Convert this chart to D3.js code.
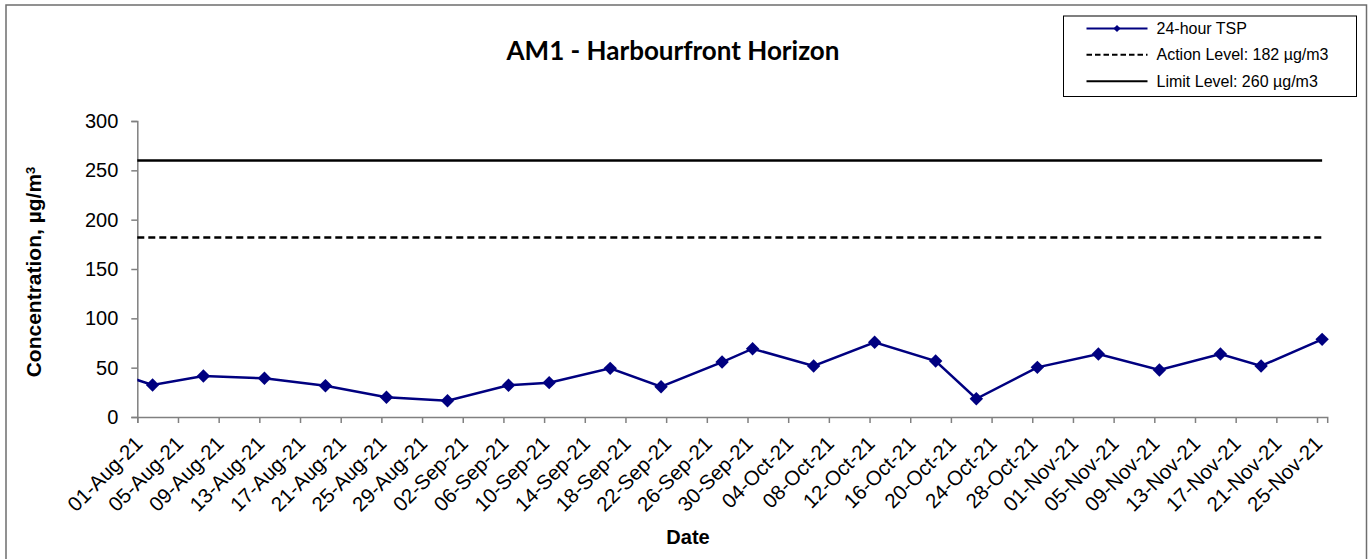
<!DOCTYPE html>
<html>
<head>
<meta charset="utf-8">
<script src="https://cdn.jsdelivr.net/npm/d3@7"></script>
<style>
  html, body { margin: 0; padding: 0; background: #fff; }
  svg { display: block; font-family: "Liberation Sans", Arial, sans-serif; }
</style>
</head>
<body>
<svg id="chart" width="1372" height="559"></svg>
<script>
// 24-hour TSP samples (first one lies before the axis start and is clipped)
var sampleDates = ["27-Jul-21", "02-Aug-21", "07-Aug-21", "13-Aug-21", "19-Aug-21", "25-Aug-21",
  "31-Aug-21", "06-Sep-21", "10-Sep-21", "16-Sep-21", "21-Sep-21", "27-Sep-21", "30-Sep-21",
  "06-Oct-21", "12-Oct-21", "18-Oct-21", "22-Oct-21", "28-Oct-21", "03-Nov-21", "09-Nov-21",
  "15-Nov-21", "19-Nov-21", "25-Nov-21"];
var tspValues = [53, 32.4, 41.5, 39.2, 31.7, 20, 16.5, 32.1, 34.8, 49.3, 30.7, 55.7, 69.2,
  51.7, 75.7, 56.7, 18.5, 50.3, 63.8, 47.6, 63.8, 51.7, 78.7];

var actionLevel = 182;
var limitLevel = 260;
var levelDates = ["01-Aug-21", "25-Nov-21"];

var axisStart = "01-Aug-21";
var axisEnd = "26-Nov-21";
var yTicks = [0, 50, 100, 150, 200, 250, 300];

var legendLabels = ["24-hour TSP", "Action Level: 182 \u00b5g/m3", "Limit Level: 260 \u00b5g/m3"];

var parse = d3.utcParse("%d-%b-%y");
var fmt = d3.utcFormat("%d-%b-%y");
var halfDay = 12 * 3600 * 1000;

var svg = d3.select("#chart");
var navy = "#000080";

var x = d3.scaleUtc()
  .domain([parse(axisStart), parse(axisEnd)])
  .range([137.3, 1327.2]);
var y = d3.scaleLinear().domain([0, 300]).range([417, 121]);

// outer frame
svg.append("rect")
  .attr("x", 6).attr("y", 5).attr("width", 1360.5).attr("height", 570)
  .attr("fill", "none").attr("stroke", "#6e6e6e").attr("stroke-width", 1.5);

svg.append("text")
  .attr("x", 673).attr("y", 60)
  .attr("text-anchor", "middle")
  .style("font-family", "Lato, 'Open Sans', sans-serif")
  .style("font-weight", "bold").style("font-size", "26px")
  .text("AM1 - Harbourfront Horizon");

var defs = svg.append("defs");
defs.append("clipPath").attr("id", "plotclip")
  .append("rect").attr("x", 137.3).attr("y", 100).attr("width", 1200).attr("height", 330);

// axes
var yAxis = svg.append("g")
  .attr("transform", "translate(137.3,0)")
  .call(d3.axisLeft(y).tickValues(yTicks).tickSize(6).tickPadding(13));
var xTicks = d3.utcDay.range(parse(axisStart), parse(axisEnd), 4);
var xAxis = svg.append("g")
  .attr("transform", "translate(0,417)")
  .call(d3.axisBottom(x).tickValues(xTicks).tickSize(6).tickFormat(fmt));

[yAxis, xAxis].forEach(function (g) {
  g.select(".domain").attr("stroke", "#808080").attr("stroke-width", 1.5);
  g.selectAll(".tick line").attr("stroke", "#808080").attr("stroke-width", 1.5);
});
yAxis.selectAll("text").style("font-size", "20px").attr("fill", "#000");
xAxis.selectAll("text")
  .style("font-size", "20.5px").attr("fill", "#000")
  .attr("text-anchor", "end")
  .attr("dy", null).attr("y", null)
  .attr("transform", "translate(6,28) rotate(-45)");

// level lines
function drawLevel(val, dash) {
  var pts = levelDates.map(function (s, i) { return parse(s).getTime() + (i ? halfDay : 0); });
  svg.append("path")
    .datum(pts)
    .attr("fill", "none").attr("stroke", "#000").attr("stroke-width", 2.5)
    .attr("stroke-dasharray", dash)
    .attr("d", d3.line().x(function (d) { return x(d); }).y(function () { return y(val); }));
}
drawLevel(limitLevel, null);
drawLevel(actionLevel, "7,4");

// TSP series
var data = sampleDates.map(function (s, i) {
  return { date: new Date(parse(s).getTime() + halfDay), value: tspValues[i] };
});
svg.append("path")
  .datum(data)
  .attr("clip-path", "url(#plotclip)")
  .attr("fill", "none").attr("stroke", navy).attr("stroke-width", 2.5)
  .attr("d", d3.line().x(function (d) { return x(d.date); }).y(function (d) { return y(d.value); }));

svg.append("g").attr("clip-path", "url(#plotclip)")
  .selectAll("path")
  .data(data)
  .enter().append("path")
  .attr("transform", function (d) { return "translate(" + x(d.date) + "," + y(d.value) + ") rotate(45)"; })
  .attr("d", d3.symbol().type(d3.symbolSquare).size(90))
  .attr("fill", navy);

// axis titles
svg.append("text")
  .attr("transform", "translate(41,272) rotate(-90)")
  .attr("text-anchor", "middle")
  .style("font-weight", "bold").style("font-size", "21px")
  .text("Concentration, \u00b5g/m")
  .append("tspan").attr("dy", "-0.5em").style("font-size", "13px").text("3");

svg.append("text")
  .attr("x", 688).attr("y", 544)
  .attr("text-anchor", "middle")
  .style("font-weight", "bold").style("font-size", "20px")
  .text("Date");

// legend
var lg = svg.append("g");
lg.append("rect")
  .attr("x", 1063.5).attr("y", 16).attr("width", 293).attr("height", 80.5)
  .attr("fill", "#fff").attr("stroke", "#000").attr("stroke-width", 1);
var rowY = [28.5, 54.8, 81.2];
legendLabels.forEach(function (label, i) {
  var row = lg.append("g").attr("transform", "translate(0," + rowY[i] + ")");
  var ln = row.append("line")
    .attr("x1", 1086.5).attr("x2", 1147.5)
    .attr("stroke", i === 0 ? navy : "#000").attr("stroke-width", 2);
  if (i === 1) ln.attr("stroke-dasharray", "5.5,3");
  if (i === 0) {
    row.append("path")
      .attr("transform", "translate(1117,0) rotate(45)")
      .attr("d", d3.symbol().type(d3.symbolSquare).size(26))
      .attr("fill", navy);
  }
  row.append("text")
    .attr("x", 1156.5).attr("dy", "0.35em")
    .style("font-size", "16px")
    .text(label);
});
</script>
</body>
</html>
